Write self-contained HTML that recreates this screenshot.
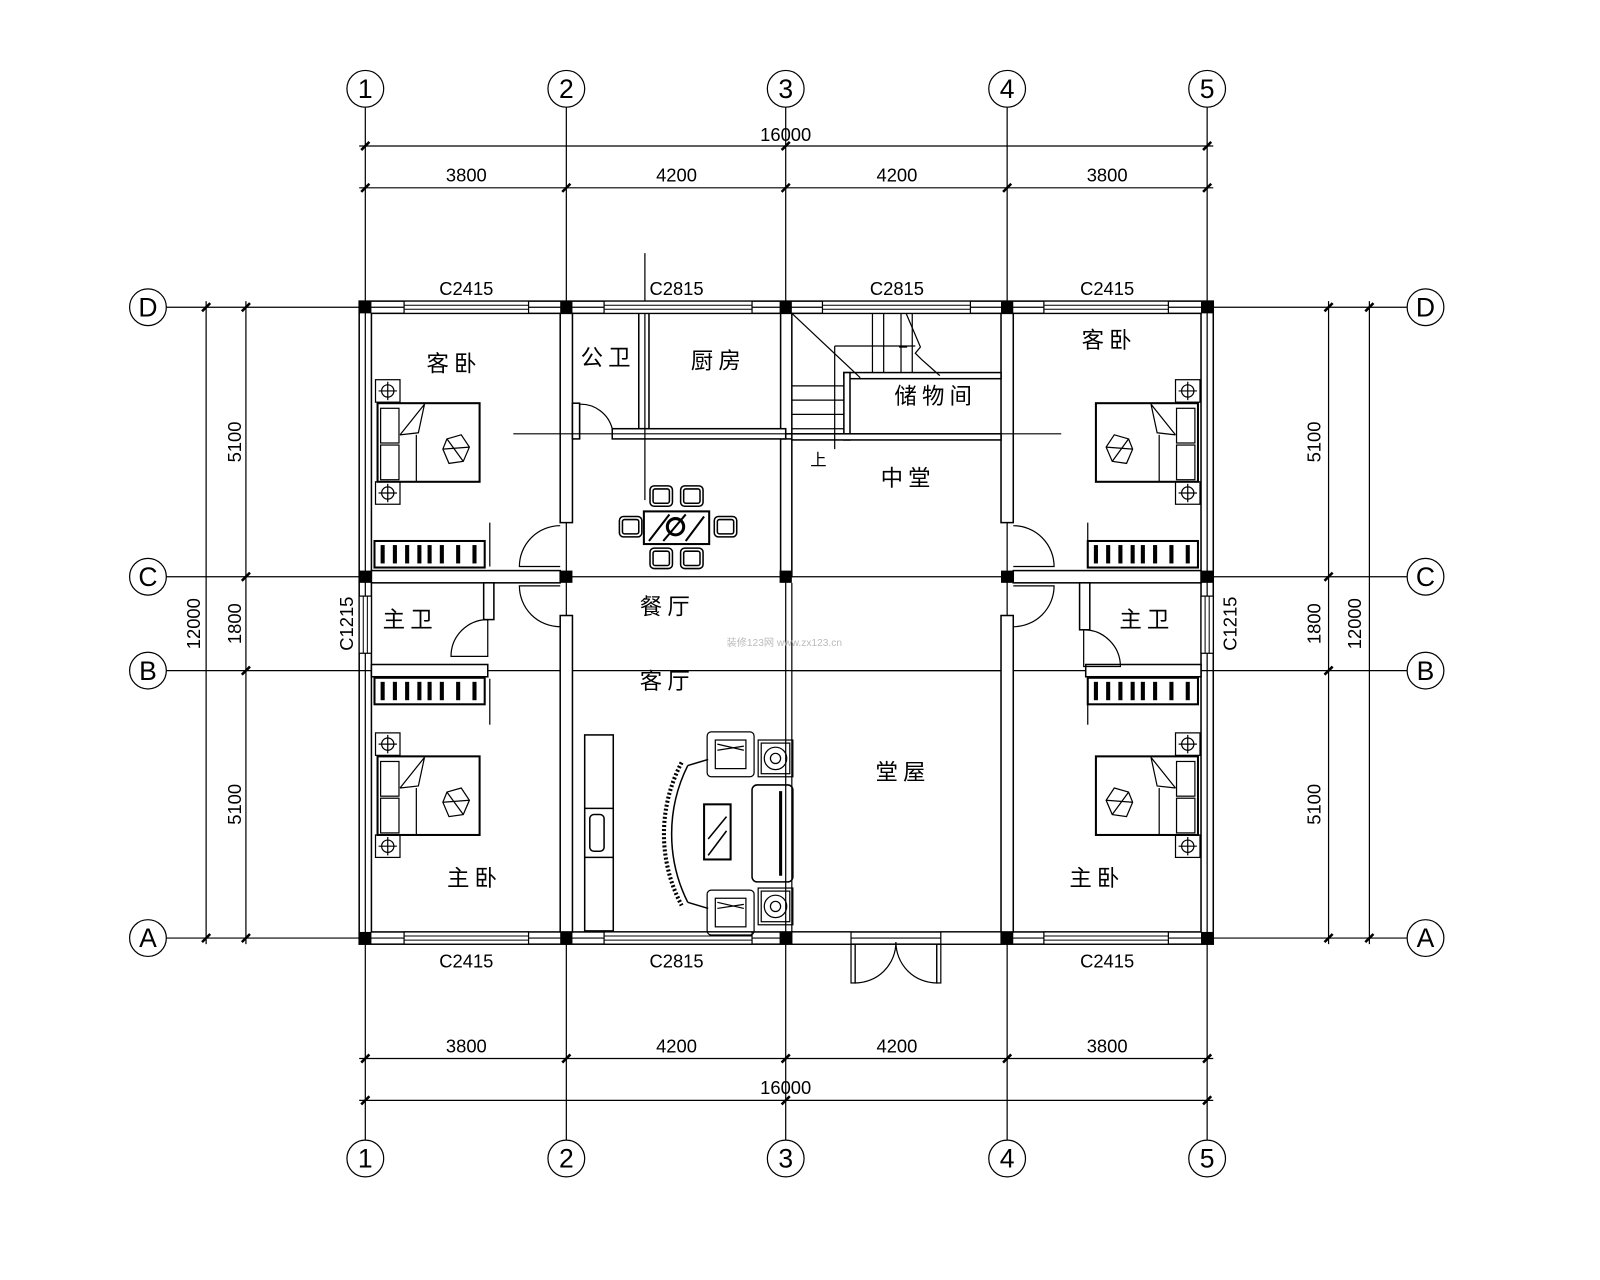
<!DOCTYPE html>
<html><head><meta charset="utf-8"><style>
html,body{margin:0;padding:0;background:#fff;}
svg{display:block}
text{font-family:"Liberation Sans","Noto Sans CJK SC",sans-serif;fill:#000}
.r{font-family:"Noto Serif CJK SC","Liberation Serif",serif;font-size:22px;letter-spacing:5px}
.d{font-size:18px}
.c{font-size:26px;font-family:"Liberation Serif",serif}
</style></head><body>
<svg width="1600" height="1280" viewBox="0 0 1568 1254" preserveAspectRatio="none" xmlns="http://www.w3.org/2000/svg">
<defs>
<g id="bed" fill="none" stroke="#000" stroke-width="1.2">
<rect x="0" y="0" width="24" height="22"/><circle cx="12" cy="11" r="6"/><line x1="3" y1="11" x2="21" y2="11"/><line x1="12" y1="2" x2="12" y2="20"/>
<rect x="0" y="100" width="24" height="22"/><circle cx="12" cy="111" r="6"/><line x1="3" y1="111" x2="21" y2="111"/><line x1="12" y1="102" x2="12" y2="120"/>
<rect x="2" y="23" width="100" height="77" stroke-width="2"/>
<rect x="5" y="28" width="18" height="34"/><rect x="5" y="64" width="18" height="34"/>
<line x1="40" y1="54" x2="40" y2="100"/><polyline points="24,54 48,24 42,52 24,54"/>
<polygon points="70,58 84,54 92,66 86,80 72,82 66,68"/><line x1="70" y1="58" x2="86" y2="80"/><line x1="66" y1="68" x2="92" y2="66"/>
</g>
<g id="ward">
<rect x="0" y="0" width="108" height="26" fill="none" stroke="#000" stroke-width="2"/>
<rect x="6" y="4" width="4" height="18"/><rect x="18" y="4" width="4" height="18"/><rect x="30" y="4" width="4" height="18"/><rect x="42" y="4" width="4" height="18"/><rect x="52" y="4" width="4" height="18"/><rect x="64" y="4" width="4" height="18"/><rect x="80" y="4" width="4" height="18"/><rect x="96" y="4" width="4" height="18"/>
</g>
<g id="chair" fill="none" stroke="#000" stroke-width="1.5"><rect x="0" y="0" width="22" height="20" rx="4"/><rect x="3" y="3" width="16" height="14" rx="2"/></g>
<g id="arm" fill="none" stroke="#000" stroke-width="1.2"><rect x="0" y="0" width="46" height="44" rx="4"/><rect x="8" y="8" width="30" height="28"/><line x1="10" y1="12" x2="36" y2="18"/><line x1="10" y1="18" x2="36" y2="14"/></g>
<g id="tbl" fill="none" stroke="#000" stroke-width="1.2"><rect x="0" y="0" width="34" height="36"/><rect x="3" y="3" width="28" height="30"/><circle cx="17" cy="18" r="11"/><circle cx="17" cy="18" r="5"/></g>
</defs>

<g stroke="#000" stroke-width="1.2" fill="none">
<line x1="358" y1="105" x2="358" y2="1117"/><line x1="555" y1="105" x2="555" y2="1117"/><line x1="770" y1="105" x2="770" y2="1117"/><line x1="987" y1="105" x2="987" y2="1117"/><line x1="1183" y1="105" x2="1183" y2="1117"/>
<line x1="163" y1="301" x2="1379" y2="301"/><line x1="163" y1="565" x2="1379" y2="565"/><line x1="163" y1="657" x2="1379" y2="657"/><line x1="163" y1="919" x2="1379" y2="919"/>
<circle cx="358" cy="87" r="18"/><circle cx="555" cy="87" r="18"/><circle cx="770" cy="87" r="18"/><circle cx="987" cy="87" r="18"/><circle cx="1183" cy="87" r="18"/>
<circle cx="358" cy="1135" r="18"/><circle cx="555" cy="1135" r="18"/><circle cx="770" cy="1135" r="18"/><circle cx="987" cy="1135" r="18"/><circle cx="1183" cy="1135" r="18"/>
<circle cx="145" cy="301" r="18"/><circle cx="145" cy="565" r="18"/><circle cx="145" cy="657" r="18"/><circle cx="145" cy="919" r="18"/>
<circle cx="1397" cy="301" r="18"/><circle cx="1397" cy="565" r="18"/><circle cx="1397" cy="657" r="18"/><circle cx="1397" cy="919" r="18"/>
<line x1="352" y1="143" x2="1189" y2="143"/><line x1="352" y1="184" x2="1189" y2="184"/>
<line x1="352" y1="1037" x2="1189" y2="1037"/><line x1="352" y1="1078" x2="1189" y2="1078"/>
<line x1="202" y1="295" x2="202" y2="925"/><line x1="241" y1="295" x2="241" y2="925"/>
<line x1="1302" y1="295" x2="1302" y2="925"/><line x1="1342" y1="295" x2="1342" y2="925"/>
</g>
<g stroke="#000" stroke-width="2.5">
<path d="M354 147l8-8M551 188l8-8M766 188l8-8M983 188l8-8M1179 147l8-8M354 188l8-8M1179 188l8-8M766 147l8-8"/>
<path d="M354 1041l8-8M551 1041l8-8M766 1041l8-8M983 1041l8-8M1179 1041l8-8M354 1082l8-8M1179 1082l8-8M766 1082l8-8"/>
<path d="M198 305l8-8M198 923l8-8M237 305l8-8M237 569l8-8M237 661l8-8M237 923l8-8"/>
<path d="M1298 305l8-8M1298 569l8-8M1298 661l8-8M1298 923l8-8M1338 305l8-8M1338 923l8-8"/>
</g>

<g stroke="#000" stroke-width="1.5" fill="#fff">
<rect x="352" y="295" width="837" height="630" fill="none"/>
<rect x="364" y="307" width="813" height="606" fill="none"/>
<rect x="549" y="307" width="12" height="205"/>
<rect x="549" y="603" width="12" height="310"/>
<rect x="765" y="307" width="11" height="118"/>
<rect x="765" y="430" width="11" height="135"/>
<rect x="981" y="307" width="12" height="205"/>
<rect x="981" y="603" width="12" height="310"/>
<rect x="364" y="559" width="185" height="12"/><rect x="364" y="651" width="114" height="12"/>
<rect x="993" y="559" width="184" height="12"/><rect x="1064" y="651" width="113" height="12"/>
<rect x="474" y="571" width="10" height="36"/><rect x="1058" y="571" width="10" height="46"/>
<rect x="626" y="307" width="10" height="113"/>
<rect x="600" y="420" width="170" height="10"/>
<rect x="561" y="395" width="7" height="35"/>
<rect x="827" y="365" width="154" height="6"/>
<rect x="827" y="365" width="6" height="66"/>
<rect x="776" y="425" width="205" height="6"/>
</g>
<g stroke="#000" stroke-width="1.2" fill="none">
<line x1="503" y1="425" x2="1040" y2="425"/>
<line x1="632" y1="248" x2="632" y2="490"/>
<line x1="480" y1="512" x2="480" y2="555"/><line x1="480" y1="665" x2="480" y2="710"/>
<line x1="1066" y1="512" x2="1066" y2="555"/><line x1="1066" y1="665" x2="1066" y2="710"/>
<line x1="776" y1="657" x2="981" y2="657"/>
<line x1="776" y1="571" x2="776" y2="913"/>
</g>
<g fill="#fff" stroke="#000" stroke-width="1.2">
<rect x="396" y="295" width="122" height="12"/><rect x="592" y="295" width="145" height="12"/><rect x="806" y="295" width="145" height="12"/><rect x="1023" y="295" width="122" height="12"/>
<rect x="396" y="913" width="122" height="12"/><rect x="592" y="913" width="145" height="12"/><rect x="1023" y="913" width="122" height="12"/>
<rect x="352" y="584" width="12" height="56"/><rect x="1177" y="584" width="12" height="56"/>
<rect x="776" y="913" width="58" height="12"/><rect x="922" y="913" width="59" height="12"/>
</g>
<g stroke="#000" stroke-width="1">
<path d="M396 299h122M396 303h122M592 299h145M592 303h145M806 299h145M806 303h145M1023 299h122M1023 303h122"/>
<path d="M396 917h122M396 921h122M592 917h145M592 921h145M1023 917h122M1023 921h122"/>
<path d="M356 584v56M360 584v56M1181 584v56M1185 584v56"/>
</g>
<g stroke="#000" stroke-width="1.2" fill="none">
<path d="M549 555h-40a40 40 0 0 1 40-40"/>
<path d="M549 574h-40a40 40 0 0 0 40 40"/>
<path d="M993 555h40a40 40 0 0 0 -40-40"/>
<path d="M993 574h40a40 40 0 0 1 -40 40"/>
<path d="M478 607v36h-36a36 36 0 0 1 36-36"/>
<path d="M1062 617v36h36a36 36 0 0 0 -36-36"/>
<path d="M568 396a32 32 0 0 1 32 24"/><line x1="568" y1="396" x2="568" y2="430"/>
<path d="M838 925v38a40 40 0 0 0 40-40"/><path d="M918 925v38a40 40 0 0 1 -40-40"/>
<rect x="834" y="925" width="4" height="38"/><rect x="918" y="925" width="4" height="38"/>
</g>
<g fill="#000">
<rect x="352" y="295" width="12" height="12"/><rect x="549" y="295" width="12" height="12"/><rect x="764" y="295" width="12" height="12"/><rect x="981" y="295" width="12" height="12"/><rect x="1177" y="295" width="12" height="12"/>
<rect x="352" y="559" width="12" height="12"/><rect x="549" y="559" width="12" height="12"/><rect x="764" y="559" width="12" height="12"/><rect x="981" y="559" width="12" height="12"/><rect x="1177" y="559" width="12" height="12"/>
<rect x="352" y="913" width="12" height="12"/><rect x="549" y="913" width="12" height="12"/><rect x="764" y="913" width="12" height="12"/><rect x="981" y="913" width="12" height="12"/><rect x="1177" y="913" width="12" height="12"/>
</g>
<g stroke="#000" stroke-width="1.2" fill="none">
<line x1="776" y1="307" x2="843" y2="370"/>
<line x1="818" y1="339" x2="818" y2="440"/>
<line x1="818" y1="339" x2="897" y2="339"/>
<path d="M855 307v58M866 307v58M883 307v58M894 307v58"/>
<path d="M776 378h51M776 392h51M776 406h51M776 420h51"/>
<polyline points="888,307 902,340 897,346 903,352 921,368"/>
<path d="M881 340h8"/>
</g>
<use href="#bed" x="368" y="372"/><use href="#bed" x="368" y="718"/>
<use href="#bed" transform="translate(1176,372) scale(-1,1)"/><use href="#bed" transform="translate(1176,718) scale(-1,1)"/>
<use href="#ward" x="367" y="530"/><use href="#ward" x="367" y="664"/><use href="#ward" x="1066" y="530"/><use href="#ward" x="1066" y="664"/>
<g stroke="#000" stroke-width="2" fill="none"><rect x="631" y="501" width="64" height="32"/><path d="M636 530l20-26M650 530l22-26M672 530l18-24"/><circle cx="662" cy="516" r="8" stroke-width="3"/></g>
<use href="#chair" x="637" y="476"/><use href="#chair" x="667" y="476"/><use href="#chair" x="637" y="537"/><use href="#chair" x="667" y="537"/>
<use href="#chair" x="607" y="506"/><use href="#chair" x="700" y="506"/>
<g stroke="#000" stroke-width="1.5" fill="none">
<rect x="573" y="720" width="28" height="192"/><line x1="573" y1="792" x2="601" y2="792"/><line x1="573" y1="840" x2="601" y2="840"/>
<rect x="578" y="798" width="14" height="36" rx="4"/>
<rect x="690" y="788" width="26" height="54" stroke-width="2"/><path d="M694 838l18-24M694 822l18-22"/>
<rect x="737" y="769" width="40" height="95" rx="5"/><line x1="765" y1="775" x2="765" y2="858" stroke-width="3"/>
<path d="M668 747a150 150 0 0 0 0 140" stroke-width="4" stroke-dasharray="2 2"/>
<path d="M674 750a150 150 0 0 0 0 134"/>
<line x1="674" y1="750" x2="694" y2="744"/><line x1="674" y1="884" x2="694" y2="890"/>
</g>
<use href="#arm" x="693" y="717"/><use href="#arm" x="693" y="872"/>
<use href="#tbl" x="743" y="725"/><use href="#tbl" x="743" y="870"/>

<g class="c" text-anchor="middle">
<text x="358" y="96">1</text><text x="555" y="96">2</text><text x="770" y="96">3</text><text x="987" y="96">4</text><text x="1183" y="96">5</text>
<text x="358" y="1144">1</text><text x="555" y="1144">2</text><text x="770" y="1144">3</text><text x="987" y="1144">4</text><text x="1183" y="1144">5</text>
<text x="145" y="310">D</text><text x="145" y="574">C</text><text x="145" y="666">B</text><text x="145" y="928">A</text>
<text x="1397" y="310">D</text><text x="1397" y="574">C</text><text x="1397" y="666">B</text><text x="1397" y="928">A</text>
</g>
<g class="d" text-anchor="middle">
<text x="770" y="138">16000</text>
<text x="457" y="178">3800</text><text x="663" y="178">4200</text><text x="879" y="178">4200</text><text x="1085" y="178">3800</text>
<text x="457" y="1031">3800</text><text x="663" y="1031">4200</text><text x="879" y="1031">4200</text><text x="1085" y="1031">3800</text>
<text x="770" y="1072">16000</text>
<text x="457" y="289">C2415</text><text x="663" y="289">C2815</text><text x="879" y="289">C2815</text><text x="1085" y="289">C2415</text>
<text x="457" y="948">C2415</text><text x="663" y="948">C2815</text><text x="1085" y="948">C2415</text>
<text transform="translate(236,433) rotate(-90)">5100</text>
<text transform="translate(236,611) rotate(-90)">1800</text>
<text transform="translate(236,788) rotate(-90)">5100</text>
<text transform="translate(196,611) rotate(-90)">12000</text>
<text transform="translate(1294,433) rotate(-90)">5100</text>
<text transform="translate(1294,611) rotate(-90)">1800</text>
<text transform="translate(1294,788) rotate(-90)">5100</text>
<text transform="translate(1334,611) rotate(-90)">12000</text>
<text transform="translate(346,611) rotate(-90)">C1215</text>
<text transform="translate(1212,611) rotate(-90)">C1215</text>
</g>
<g class="r" text-anchor="middle">
<text x="445" y="364">客卧</text><text x="596" y="358">公卫</text><text x="704" y="361">厨房</text>
<text x="917" y="396">储物间</text><text x="890" y="476">中堂</text><text x="1087" y="341">客卧</text>
<text x="654" y="602">餐厅</text><text x="654" y="675">客厅</text>
<text x="402" y="615">主卫</text><text x="1124" y="615">主卫</text>
<text x="885" y="764">堂屋</text><text x="465" y="868">主卧</text><text x="1075" y="868">主卧</text>
<text x="802" y="456" style="font-size:16px;letter-spacing:0">上</text>
</g>
<text x="712" y="633" style="font-size:10px;fill:#bbb">装修123网 www.zx123.cn</text>
</svg>
</body></html>
